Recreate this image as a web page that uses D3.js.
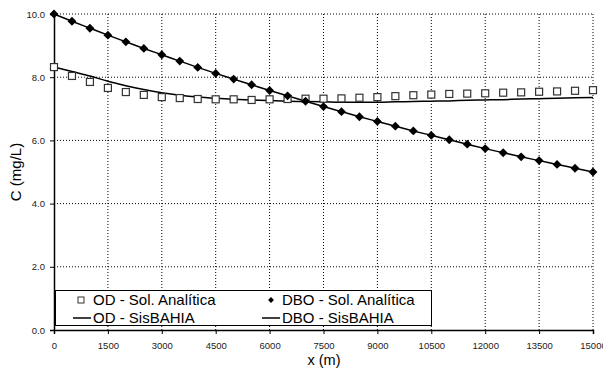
<!DOCTYPE html>
<html>
<head>
<meta charset="utf-8">
<script src="https://cdn.jsdelivr.net/npm/d3@7"></script>
<style>
  body { margin: 0; background: #fff; }
  svg text { font-family: "Liberation Sans", Arial, sans-serif; }
</style>
</head>
<body>
<div id="chart"></div>
<script>
// distances (m) for every series, 500 m steps
const xValues = [0, 500, 1000, 1500, 2000, 2500, 3000, 3500, 4000, 4500, 5000,
  5500, 6000, 6500, 7000, 7500, 8000, 8500, 9000, 9500, 10000,
  10500, 11000, 11500, 12000, 12500, 13000, 13500, 14000, 14500, 15000];

// OD - analytic solution (squares)
const odAnalitica = [8.32, 8.04, 7.85, 7.66, 7.53, 7.44, 7.37, 7.34, 7.31, 7.30, 7.30,
  7.28, 7.30, 7.31, 7.32, 7.32, 7.33, 7.35, 7.37, 7.40, 7.43,
  7.45, 7.47, 7.48, 7.49, 7.51, 7.52, 7.54, 7.55, 7.57, 7.59];

// DBO - analytic solution (diamonds)
const dboAnalitica = [10.00, 9.77, 9.55, 9.33, 9.12, 8.91, 8.71, 8.51, 8.31, 8.12, 7.94,
  7.76, 7.58, 7.41, 7.24, 7.07, 6.91, 6.75, 6.60, 6.45, 6.30,
  6.16, 6.02, 5.88, 5.74, 5.61, 5.48, 5.36, 5.24, 5.12, 5.00];

// OD - SisBAHIA (line)
const odSisbahia = [8.32, 8.18, 8.04, 7.87, 7.73, 7.61, 7.51, 7.43, 7.37, 7.33, 7.30,
  7.28, 7.26, 7.24, 7.23, 7.22, 7.21, 7.21, 7.21, 7.22, 7.23,
  7.24, 7.25, 7.27, 7.28, 7.29, 7.31, 7.32, 7.33, 7.35, 7.36];

// DBO - SisBAHIA (line)
const dboSisbahia = [10.00, 9.77, 9.55, 9.33, 9.12, 8.91, 8.71, 8.51, 8.31, 8.12, 7.94,
  7.76, 7.58, 7.41, 7.24, 7.07, 6.91, 6.75, 6.60, 6.45, 6.30,
  6.16, 6.02, 5.88, 5.74, 5.61, 5.48, 5.36, 5.24, 5.12, 5.00];

const xTicks = [0, 1500, 3000, 4500, 6000, 7500, 9000, 10500, 12000, 13500, 15000];
const yTicks = [0, 2, 4, 6, 8, 10];

const width = 603, height = 371;
const margin = { top: 14, right: 10, bottom: 41, left: 54 };
const plotW = 593 - margin.left;
const plotH = 330 - margin.top;

const svg = d3.select("#chart").append("svg")
  .attr("width", width)
  .attr("height", height);

const g = svg.append("g")
  .attr("transform", "translate(" + margin.left + "," + margin.top + ")");

const xScale = d3.scaleLinear().domain([0, 15000]).range([0, plotW]);
const yScale = d3.scaleLinear().domain([0, 10]).range([plotH, 0]);

// dotted grid
g.selectAll(".vgrid")
  .data(xTicks.slice(1))
  .enter().append("line")
  .attr("x1", d => xScale(d)).attr("x2", d => xScale(d))
  .attr("y1", 0).attr("y2", plotH)
  .attr("stroke", "#000").attr("stroke-width", 1)
  .attr("stroke-dasharray", "1,2");

g.selectAll(".hgrid")
  .data(yTicks.slice(1))
  .enter().append("line")
  .attr("x1", 0).attr("x2", plotW)
  .attr("y1", d => yScale(d)).attr("y2", d => yScale(d))
  .attr("stroke", "#000").attr("stroke-width", 1)
  .attr("stroke-dasharray", "1,2");

// axes
const xAxis = g.append("g")
  .attr("transform", "translate(0," + plotH + ")")
  .call(d3.axisBottom(xScale).tickValues(xTicks).tickSize(4).tickPadding(8).tickFormat(d3.format("d")));

const yAxis = g.append("g")
  .call(d3.axisLeft(yScale).tickValues(yTicks).tickSize(4).tickPadding(5).tickFormat(d3.format(".1f")));

[xAxis, yAxis].forEach(a => {
  a.select(".domain").attr("stroke", "#000").attr("stroke-width", 1.5);
  a.selectAll(".tick line").attr("stroke", "#000");
  a.selectAll(".tick text")
    .style("font-size", "9.5px")
    .attr("fill", "#222")
    .style("font-family", "'Liberation Sans', Arial, sans-serif");
});

// lines
const line = d3.line()
  .x((d, i) => xScale(xValues[i]))
  .y(d => yScale(d))
  .curve(d3.curveMonotoneX);

g.append("path").datum(odSisbahia)
  .attr("d", line).attr("fill", "none")
  .attr("stroke", "#000").attr("stroke-width", 1.5);

g.append("path").datum(dboSisbahia)
  .attr("d", line).attr("fill", "none")
  .attr("stroke", "#000").attr("stroke-width", 1.5);

// squares - OD analitica
g.selectAll(".sq")
  .data(odAnalitica)
  .enter().append("rect")
  .attr("x", (d, i) => xScale(xValues[i]) - 3.5)
  .attr("y", d => yScale(d) - 3.5)
  .attr("width", 7).attr("height", 7)
  .attr("fill", "#fff")
  .attr("stroke", "#333").attr("stroke-width", 1.2);

// diamonds - DBO analitica
const diamond = d3.symbol().type(d3.symbolDiamond2).size(50);
g.selectAll(".dm")
  .data(dboAnalitica)
  .enter().append("path")
  .attr("d", diamond)
  .attr("transform", (d, i) => "translate(" + xScale(xValues[i]) + "," + yScale(d) + ")")
  .attr("fill", "#000");

// axis titles
svg.append("text")
  .attr("x", 324).attr("y", 365)
  .attr("text-anchor", "middle")
  .style("font-size", "14.5px")
  .text("x (m)");

svg.append("text")
  .attr("transform", "translate(21,172) rotate(-90)")
  .attr("text-anchor", "middle")
  .style("font-size", "15px")
  .text("C (mg/L)");

// legend
const legend = svg.append("g");
legend.append("rect")
  .attr("x", 55.5).attr("y", 290.5)
  .attr("width", 376).attr("height", 35)
  .attr("fill", "#fff").attr("stroke", "#000").attr("stroke-width", 1);

legend.append("rect")
  .attr("x", 78).attr("y", 297)
  .attr("width", 6).attr("height", 6)
  .attr("fill", "#fff").attr("stroke", "#333");
legend.append("text")
  .attr("x", 93).attr("y", 305)
  .style("font-size", "15px")
  .text("OD - Sol. Analítica");

legend.append("line")
  .attr("x1", 73).attr("x2", 91).attr("y1", 318).attr("y2", 318)
  .attr("stroke", "#000").attr("stroke-width", 1.5);
legend.append("text")
  .attr("x", 93).attr("y", 323)
  .style("font-size", "15px")
  .text("OD - SisBAHIA");

legend.append("path")
  .attr("d", d3.symbol().type(d3.symbolDiamond2).size(22))
  .attr("transform", "translate(271,300)")
  .attr("fill", "#000");
legend.append("text")
  .attr("x", 282).attr("y", 305)
  .style("font-size", "15px")
  .text("DBO - Sol. Analítica");

legend.append("line")
  .attr("x1", 262).attr("x2", 280).attr("y1", 318).attr("y2", 318)
  .attr("stroke", "#000").attr("stroke-width", 1.5);
legend.append("text")
  .attr("x", 282).attr("y", 323)
  .style("font-size", "15px")
  .text("DBO - SisBAHIA");
</script>
</body>
</html>
